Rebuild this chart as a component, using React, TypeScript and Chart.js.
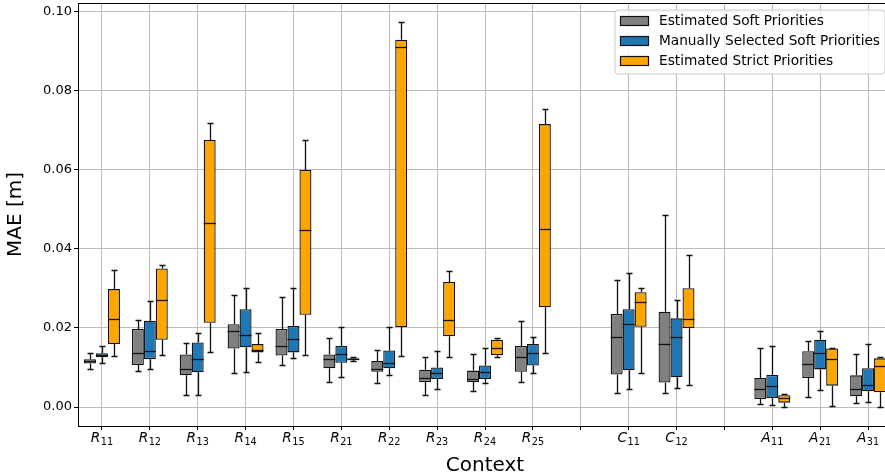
import React, { useEffect, useRef } from 'react';
import { Chart, registerables } from 'chart.js';

Chart.register(...registerables);

// ---- data ----
const tickBase = ['R', 'R', 'R', 'R', 'R', 'R', 'R', 'R', 'R', 'R', '', 'C', 'C', '', 'A', 'A', 'A'];
const tickSub = ['11', '12', '13', '14', '15', '21', '22', '23', '24', '25', '', '11', '12', '', '11', '21', '31'];
const categories = tickBase.map((b, i) => b + tickSub[i]);
const seriesLabels = ['Estimated Soft Priorities', 'Manually Selected Soft Priorities', 'Estimated Strict Priorities'];
const seriesColors = ['#808080', '#1f77b4', '#ffa500'];
const yTicks = [0, 0.02, 0.04, 0.06, 0.08, 0.1];

// Estimated Soft Priorities (whisker low, Q1, median, Q3, whisker high)
const softLow = [0.0095, 0.0091, 0.0030, 0.0085, 0.0107, 0.0063, 0.0061, 0.0030, 0.0041, 0.0063, null, 0.0035, 0.0035, null, 0.0007, 0.0025, 0.0011];
const softQ1 = [0.0110, 0.0106, 0.0080, 0.0148, 0.0130, 0.0098, 0.0089, 0.0063, 0.0063, 0.0089, null, 0.0082, 0.0062, null, 0.0020, 0.0073, 0.0027];
const softMed = [0.0116, 0.0137, 0.0095, 0.0191, 0.0154, 0.0121, 0.0097, 0.0073, 0.0071, 0.0127, null, 0.0177, 0.0159, null, 0.0046, 0.0108, 0.0046];
const softQ3 = [0.0121, 0.0197, 0.0133, 0.0209, 0.0197, 0.0133, 0.0116, 0.0094, 0.0092, 0.0154, null, 0.0235, 0.0241, null, 0.0073, 0.0141, 0.0080];
const softHigh = [0.0136, 0.0221, 0.0163, 0.0283, 0.0277, 0.0174, 0.0144, 0.0126, 0.0133, 0.0217, null, 0.0322, 0.0485, null, 0.0149, 0.0167, 0.0133];

// Manually Selected Soft Priorities
const manLow = [0.0111, 0.0097, 0.0031, 0.0088, 0.0125, 0.0075, 0.0080, 0.0045, 0.0061, 0.0085, null, 0.0046, 0.0048, null, 0.0005, 0.0042, 0.0012];
const manQ1 = [0.0126, 0.0121, 0.0088, 0.0151, 0.0138, 0.0112, 0.0098, 0.0071, 0.0071, 0.0105, null, 0.0093, 0.0075, null, 0.0023, 0.0095, 0.0040];
const manMed = [0.0132, 0.0141, 0.0121, 0.0181, 0.0172, 0.0134, 0.0112, 0.0085, 0.0089, 0.0136, null, 0.0211, 0.0176, null, 0.0054, 0.0137, 0.0055];
const manQ3 = [0.0136, 0.0218, 0.0163, 0.0247, 0.0205, 0.0154, 0.0143, 0.0100, 0.0105, 0.0159, null, 0.0247, 0.0224, null, 0.0081, 0.0170, 0.0098];
const manHigh = [0.0154, 0.0267, 0.0187, 0.0300, 0.0300, 0.0202, 0.0203, 0.0142, 0.0149, 0.0177, null, 0.0338, 0.0270, null, 0.0155, 0.0192, 0.0158];

// Estimated Strict Priorities
const strictLow = [0.0129, 0.0131, 0.0139, 0.0113, 0.0132, 0.0117, 0.0128, 0.0126, 0.0127, 0.0136, null, 0.0085, 0.0055, null, 0.0001, 0.0002, 0.0001];
const strictQ1 = [0.0159, 0.0170, 0.0213, 0.0138, 0.0233, 0.0119, 0.0202, 0.0179, 0.0131, 0.0252, null, 0.0203, 0.0199, null, 0.0011, 0.0054, 0.0037];
const strictMed = [0.0222, 0.0270, 0.0465, 0.0144, 0.0447, 0.0121, 0.0910, 0.0220, 0.0148, 0.0451, null, 0.0266, 0.0223, null, 0.0024, 0.0122, 0.0104];
const strictQ3 = [0.0298, 0.0350, 0.0675, 0.0159, 0.0599, 0.0123, 0.0928, 0.0316, 0.0170, 0.0715, null, 0.0290, 0.0300, null, 0.0030, 0.0148, 0.0123];
const strictHigh = [0.0345, 0.0358, 0.0718, 0.0188, 0.0676, 0.0126, 0.0973, 0.0343, 0.0174, 0.0752, null, 0.0300, 0.0383, null, 0.0032, 0.0150, 0.0126];

const stats = [
  { low: softLow, q1: softQ1, med: softMed, q3: softQ3, high: softHigh },
  { low: manLow, q1: manQ1, med: manMed, q3: manQ3, high: manHigh },
  { low: strictLow, q1: strictQ1, med: strictMed, q3: strictQ3, high: strictHigh },
];

const FONT = '"DejaVu Sans", sans-serif';
const LINE = '#111111';

const whiskerPlugin = {
  id: 'whiskers',
  afterDatasetsDraw(chart: any) {
    const ctx = chart.ctx;
    const y = chart.scales.y;
    const snap = (v: number) => Math.round(v) + 0.5;
    ctx.save();
    ctx.strokeStyle = LINE;
    ctx.lineWidth = 1.3;
    stats.forEach((s, di) => {
      const meta = chart.getDatasetMeta(di);
      meta.data.forEach((el: any, j: number) => {
        if (s.med[j] == null) return;
        const x = snap(el.x);
        const w = el.width;
        const pLow = snap(y.getPixelForValue(s.low[j]));
        const pQ1 = y.getPixelForValue(s.q1[j]);
        const pMed = snap(y.getPixelForValue(s.med[j]));
        const pQ3 = y.getPixelForValue(s.q3[j]);
        const pHigh = snap(y.getPixelForValue(s.high[j]));
        ctx.beginPath();
        ctx.moveTo(x, pQ3);
        ctx.lineTo(x, pHigh);
        ctx.moveTo(x, pQ1);
        ctx.lineTo(x, pLow);
        ctx.moveTo(x - w / 4, pHigh);
        ctx.lineTo(x + w / 4, pHigh);
        ctx.moveTo(x - w / 4, pLow);
        ctx.lineTo(x + w / 4, pLow);
        ctx.stroke();
        ctx.beginPath();
        ctx.moveTo(el.x - w / 2, pMed);
        ctx.lineTo(el.x + w / 2, pMed);
        ctx.stroke();
      });
    });
    ctx.restore();
  },
  afterDraw(chart: any) {
    const ctx = chart.ctx;
    const area = chart.chartArea;
    const xs = chart.scales.x;
    ctx.save();
    // top spine
    ctx.strokeStyle = '#000';
    ctx.lineWidth = 1;
    ctx.beginPath();
    ctx.moveTo(area.left, Math.round(area.top) + 0.5);
    ctx.lineTo(area.right, Math.round(area.top) + 0.5);
    ctx.stroke();

    // x tick labels with subscripts
    ctx.fillStyle = '#000';
    ctx.textBaseline = 'alphabetic';
    ctx.textAlign = 'left';
    categories.forEach((_, i) => {
      if (!tickBase[i]) return;
      const cx = xs.getPixelForValue(i);
      ctx.font = 'italic 13.7px ' + FONT;
      const wb = ctx.measureText(tickBase[i]).width;
      ctx.font = '9.7px ' + FONT;
      const ws = ctx.measureText(tickSub[i]).width;
      const x0 = cx - (wb + ws + 0.5) / 2;
      ctx.font = 'italic 13.7px ' + FONT;
      ctx.fillText(tickBase[i], x0, 442.3);
      ctx.font = '9.7px ' + FONT;
      ctx.fillText(tickSub[i], x0 + wb + 0.5, 445);
    });

    // legend
    const lx = 615, ly = 10, lw = 270, lh = 64, r = 3;
    ctx.beginPath();
    ctx.moveTo(lx + r, ly);
    ctx.lineTo(lx + lw - r, ly);
    ctx.arcTo(lx + lw, ly, lx + lw, ly + r, r);
    ctx.lineTo(lx + lw, ly + lh - r);
    ctx.arcTo(lx + lw, ly + lh, lx + lw - r, ly + lh, r);
    ctx.lineTo(lx + r, ly + lh);
    ctx.arcTo(lx, ly + lh, lx, ly + lh - r, r);
    ctx.lineTo(lx, ly + r);
    ctx.arcTo(lx, ly, lx + r, ly, r);
    ctx.closePath();
    ctx.fillStyle = 'rgba(255,255,255,0.8)';
    ctx.fill();
    ctx.strokeStyle = '#cccccc';
    ctx.stroke();

    ctx.font = '13.7px ' + FONT;
    ctx.textBaseline = 'middle';
    ctx.textAlign = 'left';
    seriesLabels.forEach((lab, i) => {
      const cy = 21.3 + i * 20;
      ctx.fillStyle = seriesColors[i];
      ctx.fillRect(620.5, Math.round(cy - 5) + 0.5, 28, 9);
      ctx.strokeStyle = LINE;
      ctx.lineWidth = 1.2;
      ctx.strokeRect(620.5, Math.round(cy - 5) + 0.5, 28, 9);
      ctx.fillStyle = '#000';
      ctx.fillText(lab, 659, cy);
    });
    ctx.restore();
  },
};

export default function App() {
  const ref = useRef<HTMLCanvasElement | null>(null);
  useEffect(() => {
    if (!ref.current) return;
    Chart.defaults.font.family = FONT;
    Chart.defaults.color = '#000';
    const datasets = stats.map((s, i) => ({
      label: seriesLabels[i],
      data: s.q1.map((q, j) => (q == null ? null : [q, s.q3[j] as number])),
      backgroundColor: seriesColors[i],
      borderColor: LINE,
      borderWidth: 1.3,
      borderSkipped: false,
      categoryPercentage: 0.75,
      barPercentage: 1.0,
    }));
    const chart = new Chart(ref.current, {
      type: 'bar',
      data: { labels: categories, datasets: datasets as any },
      plugins: [whiskerPlugin],
      options: {
        responsive: false,
        animation: false,
        events: [],
        layout: { padding: { top: 3, left: 0, right: 0, bottom: 0 } },
        plugins: { legend: { display: false }, tooltip: { enabled: false } },
        scales: {
          x: {
            type: 'category',
            offset: true,
            grid: { offset: false, color: '#bcbcbc', lineWidth: 1, tickColor: '#000', tickLength: 4 },
            border: { color: '#000', width: 1 },
            ticks: { display: false, autoSkip: false, maxRotation: 0 },
            title: { display: true, text: 'Context', font: { size: 20, lineHeight: 1, family: FONT }, padding: { top: 0, bottom: 0 }, color: '#000' },
            afterFit: (s: any) => {
              s.height = 50;
              s.paddingLeft = 0;
              s.paddingRight = 0;
            },
          },
          y: {
            type: 'linear',
            min: -0.0048,
            max: 0.1021,
            grid: { color: '#bcbcbc', lineWidth: 1, tickColor: '#000', tickLength: 4 },
            border: { color: '#000', width: 1 },
            afterBuildTicks: (s: any) => {
              s.ticks = yTicks.map((v) => ({ value: v }));
            },
            ticks: {
              padding: 2,
              font: { size: 13, family: FONT },
              color: '#000',
              callback: (v: any) => Number(v).toFixed(2),
            },
            title: { display: true, text: 'MAE [m]', font: { size: 20, lineHeight: 1, family: FONT }, padding: { top: 6, bottom: 0 }, color: '#000' },
            afterFit: (s: any) => {
              s.width = 78;
              s.paddingTop = 0;
              s.paddingBottom = 0;
            },
          },
        },
      },
    });
    return () => chart.destroy();
  }, []);
  return (
    <div style={{ position: 'fixed', left: 0, top: 0, width: 892, height: 476, background: '#fff' }}>
      <canvas ref={ref} width={892} height={476} style={{ display: 'block' }} />
    </div>
  );
}
